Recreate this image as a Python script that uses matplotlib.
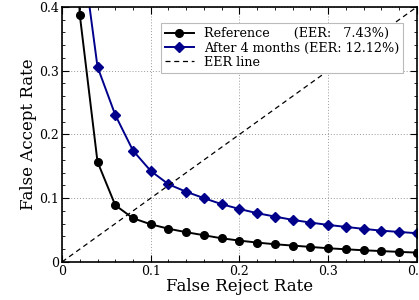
import numpy as np
import matplotlib.pyplot as plt
from matplotlib.ticker import MultipleLocator, FuncFormatter

plt.rcParams['font.family'] = 'DejaVu Serif'

# false reject rate samples
frr = [0.0, 0.02, 0.04, 0.06, 0.08, 0.10, 0.12, 0.14, 0.16, 0.18, 0.20,
       0.22, 0.24, 0.26, 0.28, 0.30, 0.32, 0.34, 0.36, 0.38, 0.40]
# false accept rate, reference model
far_ref = [1.0, 0.388, 0.157, 0.089, 0.0685, 0.059, 0.052, 0.0466, 0.0418, 0.037, 0.0334,
           0.0303, 0.0277, 0.0256, 0.0235, 0.0214, 0.0198, 0.0182, 0.0170, 0.0157, 0.0146]
# false accept rate, after 4 months
far_4m = [1.0, 0.516, 0.306, 0.2306, 0.1746, 0.1427, 0.1218, 0.110, 0.100, 0.0905, 0.083,
          0.0764, 0.0711, 0.0659, 0.0617, 0.058, 0.0549, 0.0518, 0.049, 0.047, 0.045]
eer_ref = 7.43
eer_4m = 12.12

fig = plt.figure(figsize=(4.19, 3.0), dpi=100)
ax = fig.add_axes([0.148, 0.127, 0.847, 0.850])

ax.plot(frr, far_ref, 'k-o', lw=1.4, ms=5.5,
        label='Reference      (EER:   %.2f%%)' % eer_ref)
ax.plot(frr, far_4m, '-D', color='#00008b', lw=1.4, ms=5,
        label='After 4 months (EER: %.2f%%)' % eer_4m)
ax.plot([0, 1], [0, 1], 'k--', lw=0.9, dashes=(4, 3), label='EER line')

ax.set_xlim(0, 0.4)
ax.set_ylim(0, 0.4)
ax.xaxis.set_major_locator(MultipleLocator(0.1))
ax.yaxis.set_major_locator(MultipleLocator(0.1))
ax.xaxis.set_minor_locator(MultipleLocator(0.02))
ax.yaxis.set_minor_locator(MultipleLocator(0.02))
fmt = FuncFormatter(lambda v, p: '0' if abs(v) < 1e-9 else '%g' % round(v, 2))
ax.xaxis.set_major_formatter(fmt)
ax.yaxis.set_major_formatter(fmt)
ax.tick_params(which='both', direction='in', top=True, right=True, labelsize=9)
ax.tick_params(which='major', length=5, pad=2)
ax.tick_params(which='minor', length=2.5)
ax.grid(True, which='major', linestyle=(0, (1, 2)), color='#999999', lw=0.7)
for s in ax.spines.values():
    s.set_linewidth(1.2)

ax.set_xlabel('False Reject Rate', fontsize=12, labelpad=0)
ax.set_ylabel('False Accept Rate', fontsize=12, labelpad=2)

leg = ax.legend(loc='upper right', bbox_to_anchor=(0.98, 0.96), fontsize=9.2,
                fancybox=False, framealpha=1, edgecolor='#bbbbbb',
                handlelength=2.3, borderpad=0.3, labelspacing=0.1)
leg.get_frame().set_linewidth(0.8)

plt.savefig('out.png', dpi=100)
